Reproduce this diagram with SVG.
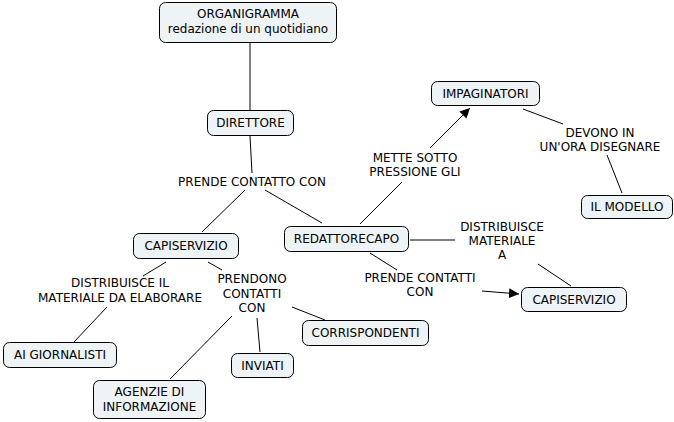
<svg xmlns="http://www.w3.org/2000/svg" width="674" height="422" viewBox="0 0 674 422">
<defs>
<style>
.n{fill:#eef3f5;stroke:#000;stroke-width:1}
.t{font-family:"DejaVu Sans",Verdana,sans-serif;font-size:12px;fill:#000;text-anchor:middle}
.c line{stroke:#000;stroke-width:1}
</style>
<marker id="ah" viewBox="0 0 10 10" refX="10" refY="5" markerWidth="10" markerHeight="10" markerUnits="userSpaceOnUse" orient="auto"><path d="M0,0L10,5L0,10z" fill="#000"/></marker>
</defs>
<rect width="674" height="422" fill="#fff"/>
<g class="c">
<line x1="250" y1="42" x2="250" y2="110"/>
<line x1="250" y1="136" x2="252" y2="173"/>
<line x1="245" y1="190" x2="202" y2="232"/>
<line x1="265" y1="190" x2="322" y2="223"/>
<line x1="360" y1="224" x2="402" y2="182"/>
<line x1="430" y1="148" x2="470" y2="108" marker-end="url(#ah)"/>
<line x1="523" y1="109" x2="563" y2="124"/>
<line x1="607" y1="155" x2="622" y2="193"/>
<line x1="410" y1="240" x2="455" y2="240"/>
<line x1="538" y1="264" x2="571" y2="286"/>
<line x1="370" y1="253" x2="397" y2="270"/>
<line x1="482" y1="291" x2="519" y2="294" marker-end="url(#ah)"/>
<line x1="166" y1="262" x2="143" y2="276"/>
<line x1="107" y1="307" x2="74" y2="342"/>
<line x1="208" y1="262" x2="222" y2="270"/>
<line x1="292" y1="307" x2="325" y2="320"/>
<line x1="257" y1="318" x2="260" y2="352"/>
<line x1="232" y1="316" x2="170" y2="379"/>
</g>
<g id="organigramma"><rect class="n" x="159.5" y="2.5" width="177" height="40" rx="6"/><text class="t" x="248" y="18">ORGANIGRAMMA</text><text class="t" x="248" y="33">redazione di un quotidiano</text></g>
<g id="direttore"><rect class="n" x="207.5" y="110.5" width="86" height="25" rx="6"/><text class="t" x="250.5" y="127">DIRETTORE</text></g>
<g id="capiservizio1"><rect class="n" x="133.5" y="233.5" width="105" height="25" rx="6"/><text class="t" x="186" y="250">CAPISERVIZIO</text></g>
<g id="redattorecapo"><rect class="n" x="284.5" y="226.5" width="124" height="25" rx="6"/><text class="t" x="346.5" y="243">REDATTORECAPO</text></g>
<g id="impaginatori"><rect class="n" x="431.5" y="81.5" width="108" height="24" rx="6"/><text class="t" x="485.5" y="98">IMPAGINATORI</text></g>
<g id="ilmodello"><rect class="n" x="581.5" y="195.5" width="91" height="23" rx="6"/><text class="t" x="627" y="211">IL MODELLO</text></g>
<g id="capiservizio2"><rect class="n" x="521.5" y="287.5" width="105" height="24" rx="6"/><text class="t" x="574" y="304">CAPISERVIZIO</text></g>
<g id="aigiornalisti"><rect class="n" x="3.5" y="342.5" width="113" height="25" rx="6"/><text class="t" x="60" y="359">AI GIORNALISTI</text></g>
<g id="corrispondenti"><rect class="n" x="302.5" y="320.5" width="126" height="25" rx="6"/><text class="t" x="365.5" y="337">CORRISPONDENTI</text></g>
<g id="inviati"><rect class="n" x="231.5" y="353.5" width="62" height="24" rx="6"/><text class="t" x="262.5" y="370">INVIATI</text></g>
<g id="agenzie"><rect class="n" x="93.5" y="380.5" width="112" height="38" rx="6"/><text class="t" x="149.5" y="396">AGENZIE DI</text><text class="t" x="149.5" y="411">INFORMAZIONE</text></g>
<g id="labels">
<text class="t" x="252" y="186">PRENDE CONTATTO CON</text>
<text class="t" x="415" y="162">METTE SOTTO</text><text class="t" x="415" y="176">PRESSIONE GLI</text>
<text class="t" x="600" y="137">DEVONO IN</text><text class="t" x="600" y="151">UN'ORA DISEGNARE</text>
<text class="t" x="502" y="231">DISTRIBUISCE</text><text class="t" x="502" y="245">MATERIALE</text><text class="t" x="502" y="259">A</text>
<text class="t" x="420" y="282">PRENDE CONTATTI</text><text class="t" x="420" y="296">CON</text>
<text class="t" x="120" y="287">DISTRIBUISCE IL</text><text class="t" x="120" y="302">MATERIALE DA ELABORARE</text>
<text class="t" x="252" y="283">PRENDONO</text><text class="t" x="252" y="298">CONTATTI</text><text class="t" x="252" y="312">CON</text>
</g>
</svg>
